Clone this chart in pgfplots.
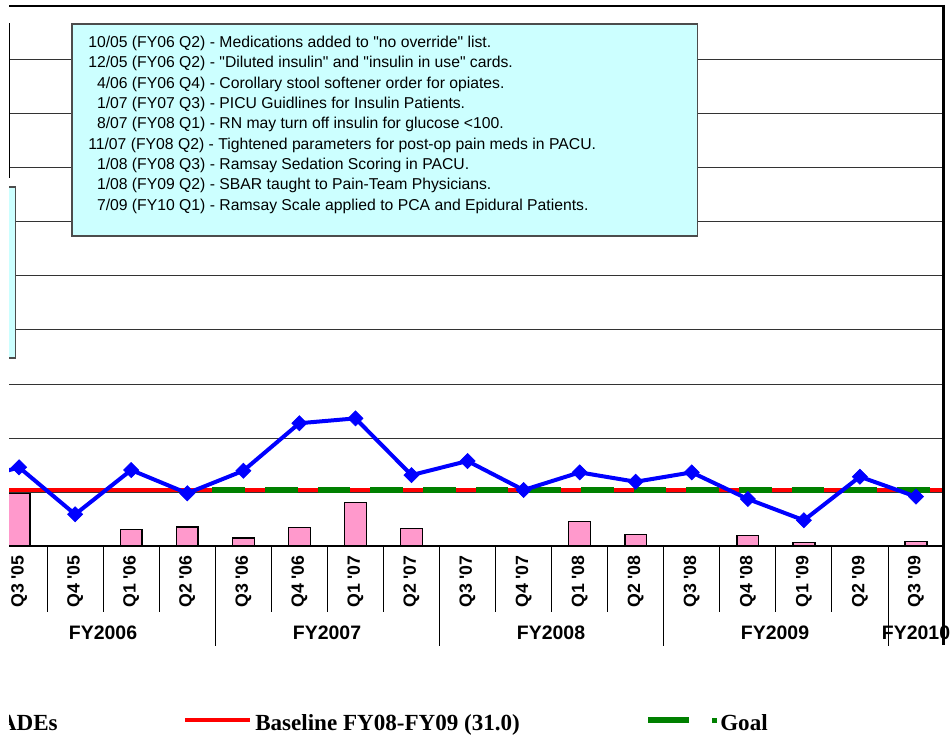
\documentclass[border=0pt]{standalone}
\usepackage{pgfplots}
\pgfplotsset{compat=1.18}
\usepackage{fontspec}
\setmainfont{Liberation Sans}
\newfontfamily\arial{Liberation Sans}
\newfontfamily\tnr{Liberation Serif}
\definecolor{barpink}{HTML}{FF99CC}
\definecolor{boxcyan}{HTML}{CCFFFF}
\definecolor{goalgreen}{HTML}{008000}
\newcommand{\q}{\textquotesingle}
\begin{document}
\begin{tikzpicture}[x=0.75pt,y=0.75pt]
\path[use as bounding box] (0,0) rectangle (952,739);
\clip (9,0) rectangle (952,739);
\begin{axis}[
  at={(6.75pt,144.75pt)}, anchor=south west,
  scale only axis, width=701.25pt, height=405pt,
  xmin=-0.18, xmax=16.5, ymin=0, ymax=300,
  axis line style={draw=none},
  ytick={0,30,...,300}, yticklabel=\empty,
  ymajorgrids, grid style={black!80, line width=0.75pt},
  xtick={0,...,16},
  xticklabels={Q3 \q05, Q4 \q05, Q1 \q06, Q2 \q06, Q3 \q06, Q4 \q06, Q1 \q07, Q2 \q07, Q3 \q07, Q4 \q07, Q1 \q08, Q2 \q08, Q3 \q08, Q4 \q08, Q1 \q09, Q2 \q09, Q3 \q09},
  major tick length=0pt,
  xticklabel style={rotate=90, anchor=east, inner sep=0pt, font=\arial\bfseries\fontsize{13.3}{15}\selectfont},
  xticklabel shift=6.75pt,
]
\addplot[ybar, bar width=0.39, fill=barpink, draw=black, line width=1.1pt]
  coordinates {(0,29.3) (2,9.3) (3,10.6) (4,4.4) (5,10.2) (6,24.3) (7,9.8) (10,13.5) (11,6.5) (13,5.7) (14,1.8) (16,2.6)};
\addplot[red, line width=3pt] coordinates {(-1,31) (17,31)};
\addplot[goalgreen, line width=4.5pt, dash pattern=on 24.5pt off 15pt] coordinates {(3.45,31) (16.6,31)};
\addplot[blue, line width=3pt, mark=square*, mark size=4pt,
  mark options={rotate=45, solid, fill=blue, draw=blue, line width=0.5pt}]
  coordinates {(-1,35) (0,43.7) (1,17.6) (2,42.2) (3,29.3) (4,41.8) (5,68.2) (6,70.9) (7,39.4) (8,47.2) (9,31.1) (10,40.9) (11,35.7) (12,40.9) (13,26.1) (14,14.3) (15,38.5) (16,27.4)};
\end{axis}
% frame lines
\draw[black, line width=0.9pt] (9,193) -- (944,193);
\draw[black, line width=1.9pt] (9,733) -- (944,733);
\draw[black, line width=2.25pt] (943.5,734) -- (943.5,94);
% category separators
\foreach \k in {0,1,2,4,5,6,8,9,10,12,13,14}
  \draw[black, line width=0.75pt] ({9+(\k+0.68)*56.06},193) -- ++(0,-66);
\foreach \k in {3,7,11,15}
  \draw[black, line width=0.75pt] ({9+(\k+0.68)*56.06},193) -- ++(0,-100);
% fiscal-year labels
\begin{scope}[every node/.style={font=\arial\bfseries\fontsize{14.6}{16}\selectfont, inner sep=0pt}]
\node at (103,106) {FY2006};
\node at (327,106) {FY2007};
\node at (551,106) {FY2008};
\node at (775,106) {FY2009};
\node at (916,106) {FY2010};
\end{scope}
% left partial boxes
\draw[fill=white, draw=black, line width=1.1pt] (-10,715) rectangle (9.7,562);
\draw[fill=boxcyan, draw=black!70, line width=1.1pt] (-10,552) rectangle (15.5,381);
% annotation box
\draw[fill=boxcyan, draw=black!70, line width=1.1pt] (72,715) rectangle (697.5,503);
\begin{scope}[every node/.style={anchor=base west, inner sep=0pt, font=\arial\fontsize{11.8}{14}\selectfont}]
\node at (88,691.3) {10/05 (FY06 Q2) - Medications added to "no override" list.};
\node at (88,671.0) {12/05 (FY06 Q2) - "Diluted insulin" and "insulin in use" cards.};
\node at (88,650.7) {\phantom{1}4/06 (FY06 Q4) - Corollary stool softener order for opiates.};
\node at (88,630.4) {\phantom{1}1/07 (FY07 Q3) - PICU Guidlines for Insulin Patients.};
\node at (88,610.0) {\phantom{1}8/07 (FY08 Q1) - RN may turn off insulin for glucose <100.};
\node at (88,589.7) {11/07 (FY08 Q2) - Tightened parameters for post-op pain meds in PACU.};
\node at (88,569.4) {\phantom{1}1/08 (FY08 Q3) - Ramsay Sedation Scoring in PACU.};
\node at (88,549.1) {\phantom{1}1/08 (FY09 Q2) - SBAR taught to Pain-Team Physicians.};
\node at (88,528.8) {\phantom{1}7/09 (FY10 Q1) - Ramsay Scale applied to PCA and Epidural Patients.};
\end{scope}
% legend
\begin{scope}[every node/.style={inner sep=0pt, font=\tnr\bfseries\fontsize{17.3}{20}\selectfont}]
\node[anchor=base east] at (58,9) {ADEs};
\draw[red, line width=3pt] (185,19) -- (250,19);
\node[anchor=base west] at (255,9) {Baseline FY08-FY09 (31.0)};
\draw[goalgreen, line width=4.5pt] (648,19) -- (689,19);
\fill[goalgreen] (712,16.5) rectangle (717,21.5);
\node[anchor=base west] at (720,9) {Goal};
\end{scope}
\end{tikzpicture}
\end{document}
